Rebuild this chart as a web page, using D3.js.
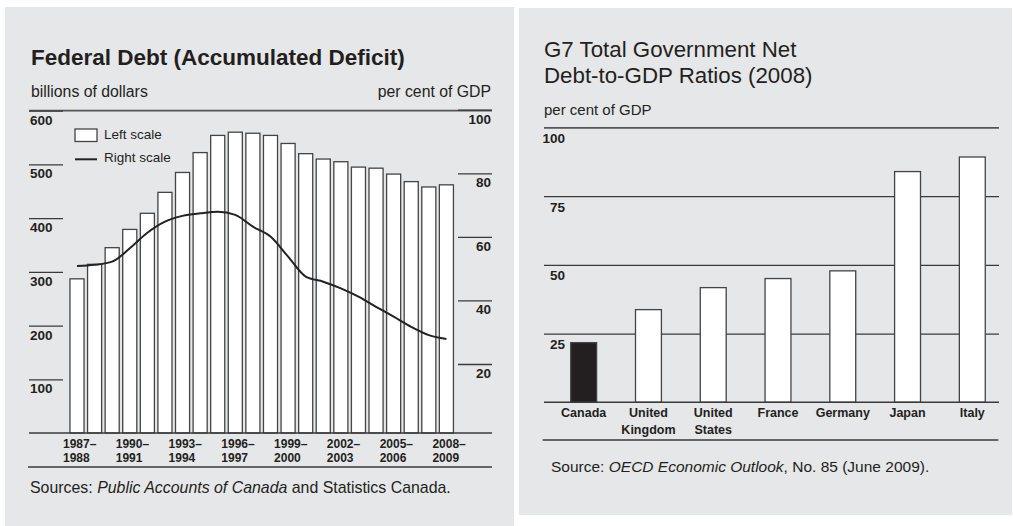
<!DOCTYPE html>
<html>
<head>
<meta charset="utf-8">
<script src="https://cdn.jsdelivr.net/npm/d3@7"></script>
<style>
  body { margin: 0; background: #fff; }
  svg { display: block; font-family: "Liberation Sans", Arial, Helvetica, sans-serif; }
</style>
</head>
<body>
<svg id="chart" width="1013" height="526"></svg>
<script>
// ---- Federal debt (accumulated deficit), fiscal years ----
const fiscalYears = [
  "1987–1988", "1988–1989", "1989–1990", "1990–1991", "1991–1992", "1992–1993",
  "1993–1994", "1994–1995", "1995–1996", "1996–1997", "1997–1998", "1998–1999",
  "1999–2000", "2000–2001", "2001–2002", "2002–2003", "2003–2004", "2004–2005",
  "2005–2006", "2006–2007", "2007–2008", "2008–2009"
];
// billions of dollars (left scale)
const debtBillions = [
  287, 314, 345, 379, 409, 448, 485, 522, 554, 560, 558,
  554, 539, 520, 510, 505, 495, 493, 482, 468, 458, 462
];
// per cent of GDP (right scale)
const debtPctGDP = [
  50.8, 51.2, 52.2, 56.4, 61.3, 64.8, 66.6, 67.4, 67.9, 66.9, 63.2,
  60.1, 53.8, 47.5, 45.9, 43.8, 41.2, 38.0, 34.9, 31.7, 29.1, 27.9
];
const tickYears = ["1987–1988", "1990–1991", "1993–1994", "1996–1997",
                   "1999–2000", "2002–2003", "2005–2006", "2008–2009"];
const leftTicks = [100, 200, 300, 400, 500, 600];
const rightTicks = [20, 40, 60, 80, 100];

// ---- G7 net debt-to-GDP ratios, 2008 ----
const countries = ["Canada", "United Kingdom", "United States", "France", "Germany", "Japan", "Italy"];
const netDebtRatio = [21.7, 33.7, 41.7, 45.0, 47.8, 83.9, 89.2];
const g7Ticks = [25, 50, 75, 100];

const ink = "#231f20";
const rule = "#3a3a3a";
const panelFill = "#e6e7e9";

const svg = d3.select("#chart");

// panels
svg.append("rect").attr("x", 5).attr("y", 7).attr("width", 509).attr("height", 519).attr("fill", panelFill);
svg.append("rect").attr("x", 519).attr("y", 8).attr("width", 493).attr("height", 507).attr("fill", panelFill);

// ================= Left chart =================
const L = { left: 29, right: 492, top: 110.7, base: 433 };

svg.append("text").attr("x", 31).attr("y", 65)
  .attr("font-size", 22.5).attr("font-weight", "bold").attr("fill", ink)
  .text("Federal Debt (Accumulated Deficit)");
svg.append("text").attr("x", 31).attr("y", 97)
  .attr("font-size", 15.8).attr("fill", ink).text("billions of dollars");
svg.append("text").attr("x", 491).attr("y", 97).attr("text-anchor", "end")
  .attr("font-size", 15.8).attr("fill", ink).text("per cent of GDP");

svg.append("line").attr("x1", L.left).attr("x2", L.right).attr("y1", L.top).attr("y2", L.top)
  .attr("stroke", "#555").attr("stroke-width", 1.8);

const x = d3.scaleBand(fiscalYears, [68.2, 455.2]).paddingInner(0.2).paddingOuter(0.1);
const yDebt = d3.scaleLinear([0, 600], [L.base, L.top]);
const yPct = d3.scaleLinear([0, 100], [427.6, 109.7]);

function styleAxis(g, tx, anchor) {
  g.attr("font-family", null).attr("font-size", null);
  g.select(".domain").remove();
  g.selectAll(".tick line").attr("stroke", rule).attr("stroke-width", 1.3);
  g.selectAll(".tick text")
    .attr("x", tx).attr("dy", null).attr("y", 13.5)
    .attr("text-anchor", anchor)
    .attr("font-size", 13.5).attr("font-weight", "bold").attr("fill", ink);
}

svg.append("g").attr("transform", `translate(${L.left},0)`)
  .call(d3.axisRight(yDebt).tickValues(leftTicks).tickSize(34).tickFormat(d3.format("d")))
  .call(g => styleAxis(g, 1, "start"));

svg.append("g").attr("transform", `translate(${L.right},0)`)
  .call(d3.axisLeft(yPct).tickValues(rightTicks).tickSize(34).tickFormat(d3.format("d")))
  .call(g => styleAxis(g, -1, "end"));

// bars
svg.append("g").selectAll("rect")
  .data(debtBillions)
  .join("rect")
  .attr("x", (d, i) => x(fiscalYears[i]))
  .attr("y", d => yDebt(d))
  .attr("width", x.bandwidth())
  .attr("height", d => yDebt(0) - yDebt(d))
  .attr("fill", "#fff").attr("stroke", "#444").attr("stroke-width", 1.3);

svg.append("line").attr("x1", L.left).attr("x2", L.right).attr("y1", L.base).attr("y2", L.base)
  .attr("stroke", rule).attr("stroke-width", 1.5);

// debt-to-GDP line
const line = d3.line()
  .x((d, i) => x(fiscalYears[i]) + x.bandwidth() / 2)
  .y(d => yPct(d))
  .curve(d3.curveMonotoneX);
svg.append("path").datum(debtPctGDP).attr("d", line)
  .attr("fill", "none").attr("stroke", "#222").attr("stroke-width", 2);

// legend
svg.append("rect").attr("x", 75).attr("y", 129).attr("width", 22).attr("height", 12.5)
  .attr("fill", "#fff").attr("stroke", "#444").attr("stroke-width", 1.3);
svg.append("text").attr("x", 104).attr("y", 138.5).attr("font-size", 13.5).attr("fill", ink).text("Left scale");
svg.append("line").attr("x1", 75).attr("x2", 97).attr("y1", 159.3).attr("y2", 159.3)
  .attr("stroke", "#222").attr("stroke-width", 2);
svg.append("text").attr("x", 104).attr("y", 162).attr("font-size", 13.5).attr("fill", ink).text("Right scale");

// year labels
const yearLabels = svg.append("g").attr("font-size", 12).attr("font-weight", "bold").attr("fill", ink);
tickYears.forEach(lbl => {
  const parts = lbl.split("–");
  const cx = x(lbl) + x.bandwidth() / 2 - 14;
  const t = yearLabels.append("text").attr("x", cx).attr("y", L.base + 15);
  t.append("tspan").attr("x", cx).text(parts[0] + "–");
  t.append("tspan").attr("x", cx).attr("y", L.base + 28.7).text(parts[1]);
});

svg.append("line").attr("x1", 28).attr("x2", L.right).attr("y1", 467).attr("y2", 467)
  .attr("stroke", rule).attr("stroke-width", 1.5);

const srcL = svg.append("text").attr("x", 30).attr("y", 493).attr("font-size", 15.9).attr("fill", ink);
srcL.append("tspan").text("Sources: ");
srcL.append("tspan").attr("font-style", "italic").text("Public Accounts of Canada");
srcL.append("tspan").text(" and Statistics Canada.");

// ================= Right chart =================
const R = { left: 544, right: 999, top: 127.3, base: 402.3 };

const titleR = svg.append("text").attr("font-size", 22.3).attr("fill", ink);
titleR.append("tspan").attr("x", R.left).attr("y", 56.7).text("G7 Total Government Net");
titleR.append("tspan").attr("x", R.left).attr("y", 83).text("Debt-to-GDP Ratios (2008)");
svg.append("text").attr("x", R.left).attr("y", 115).attr("font-size", 15).attr("fill", ink).text("per cent of GDP");

const xG7 = d3.scaleBand(countries, [551.3, 1004.7]).paddingInner(0.6).paddingOuter(0.3);
const yG7 = d3.scaleLinear([0, 100], [R.base, R.top]);

svg.append("g").attr("transform", `translate(${R.left},0)`)
  .call(d3.axisRight(yG7).tickValues(g7Ticks).tickSize(R.right - R.left).tickFormat(d3.format("d")))
  .call(g => {
    g.attr("font-family", null).attr("font-size", null);
    g.select(".domain").remove();
    g.selectAll(".tick line")
      .attr("stroke", d => d === 100 ? "#555" : rule)
      .attr("stroke-width", d => d === 100 ? 1.8 : 1.3);
    g.selectAll(".tick text")
      .attr("x", 21).attr("dy", null).attr("y", 15).attr("text-anchor", "end")
      .attr("font-size", 13.5).attr("font-weight", "bold").attr("fill", ink);
  });

svg.append("g").selectAll("rect")
  .data(netDebtRatio)
  .join("rect")
  .attr("x", (d, i) => xG7(countries[i]))
  .attr("y", d => yG7(d))
  .attr("width", xG7.bandwidth())
  .attr("height", d => yG7(0) - yG7(d))
  .attr("fill", (d, i) => countries[i] === "Canada" ? ink : "#fff")
  .attr("stroke", "#444").attr("stroke-width", 1.3);

svg.append("line").attr("x1", R.left).attr("x2", R.right).attr("y1", R.base).attr("y2", R.base)
  .attr("stroke", rule).attr("stroke-width", 1.5);

const cLabels = svg.append("g").attr("font-size", 12.5).attr("font-weight", "bold")
  .attr("fill", ink).attr("text-anchor", "middle");
countries.forEach(c => {
  const cx = xG7(c) + xG7.bandwidth() / 2;
  const words = c.split(" ");
  const t = cLabels.append("text").attr("x", cx).attr("y", R.base + 14.4);
  words.forEach((w, k) => t.append("tspan").attr("x", cx).attr("y", R.base + 14.4 + k * 17.3).text(w));
});

svg.append("line").attr("x1", 542.7).attr("x2", 998.3).attr("y1", 440).attr("y2", 440)
  .attr("stroke", rule).attr("stroke-width", 1.5);

const srcR = svg.append("text").attr("x", 551).attr("y", 471.7).attr("font-size", 15.5).attr("fill", ink);
srcR.append("tspan").text("Source: ");
srcR.append("tspan").attr("font-style", "italic").text("OECD Economic Outlook");
srcR.append("tspan").text(", No. 85 (June 2009).");
</script>
</body>
</html>
